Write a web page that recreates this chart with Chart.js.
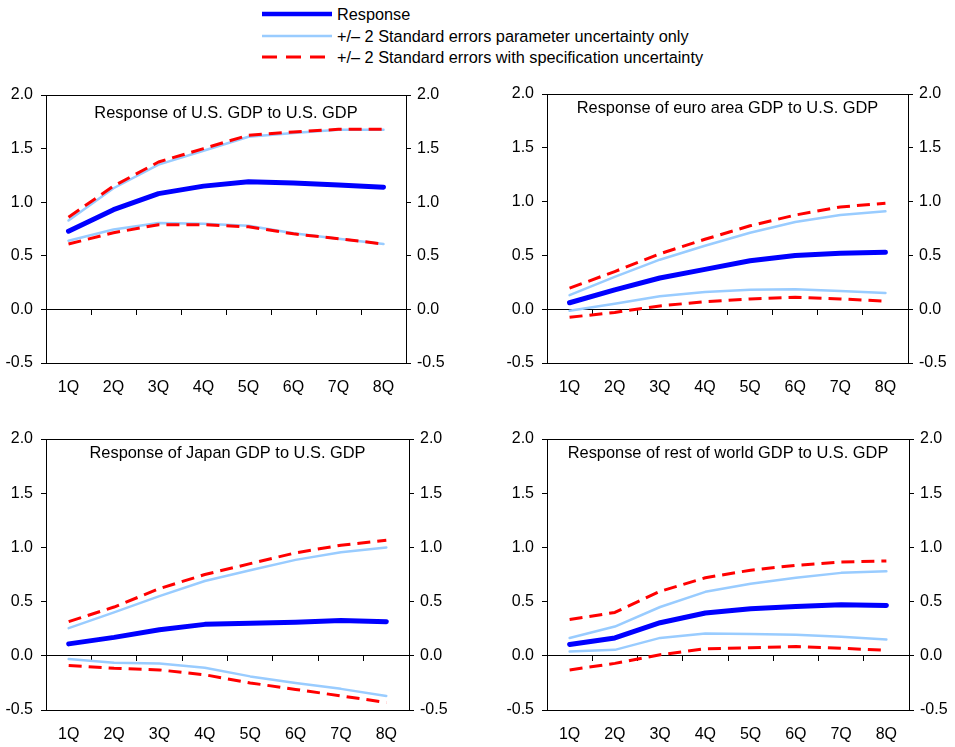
<!DOCTYPE html>
<html>
<head>
<meta charset="utf-8">
<script src="https://cdn.jsdelivr.net/npm/chart.js@4/dist/chart.umd.min.js"></script>
<style>
  html, body { margin: 0; padding: 0; background: #fff; width: 955px; height: 747px; overflow: hidden;
    font-family: "Liberation Sans", Arial, sans-serif; color: #000; }
  canvas.panel { position: absolute; }
  #legend { position: absolute; left: 262px; top: 0; font-size: 16.3px; }
  #legend .row { position: absolute; left: 0; height: 22px; line-height: 22px; white-space: nowrap; }
  #legend svg { position: absolute; left: 0; top: 6px; }
  #legend span { position: absolute; left: 75px; top: 0; }
</style>
</head>
<body>
<div id="legend">
  <div class="row" style="top:3px">
    <svg width="72" height="10"><line x1="0" y1="5" x2="70" y2="5" stroke="#0000ff" stroke-width="4.5"/></svg>
    <span>Response</span>
  </div>
  <div class="row" style="top:24.5px">
    <svg width="72" height="10"><line x1="0" y1="5" x2="70" y2="5" stroke="#99ccff" stroke-width="2.5"/></svg>
    <span>+/– 2 Standard errors parameter uncertainty only</span>
  </div>
  <div class="row" style="top:46px">
    <svg width="72" height="10"><line x1="0" y1="5" x2="70" y2="5" stroke="#ff0000" stroke-width="3" stroke-dasharray="15 9"/></svg>
    <span>+/– 2 Standard errors with specification uncertainty</span>
  </div>
</div>

<canvas id="pUS" class="panel" width="456" height="324" style="left:0px;top:75px"></canvas>
<canvas id="pEU" class="panel" width="457" height="325" style="left:501px;top:74px"></canvas>
<canvas id="pJP" class="panel" width="459" height="327" style="left:0px;top:419px"></canvas>
<canvas id="pROW" class="panel" width="458" height="327" style="left:501px;top:419px"></canvas>

<script>
// Horizon labels and value-axis ticks
const quarters = ['1Q', '2Q', '3Q', '4Q', '5Q', '6Q', '7Q', '8Q'];
const yTicks = [-0.5, 0.0, 0.5, 1.0, 1.5, 2.0];

// Response of U.S. GDP to U.S. GDP
const usResp    = [0.73, 0.93, 1.08, 1.15, 1.19, 1.18, 1.16, 1.14];
const usParamHi = [0.83, 1.13, 1.35, 1.48, 1.61, 1.645, 1.675, 1.675];
const usParamLo = [0.64, 0.745, 0.805, 0.80, 0.78, 0.71, 0.66, 0.61];
const usSpecHi  = [0.86, 1.15, 1.375, 1.50, 1.625, 1.655, 1.68, 1.68];
const usSpecLo  = [0.61, 0.715, 0.79, 0.79, 0.77, 0.705, 0.66, 0.61];

// Response of euro area GDP to U.S. GDP
const euResp    = [0.06, 0.18, 0.29, 0.37, 0.45, 0.50, 0.52, 0.53];
const euParamHi = [0.13, 0.30, 0.46, 0.59, 0.71, 0.81, 0.875, 0.91];
const euParamLo = [-0.015, 0.05, 0.12, 0.16, 0.18, 0.185, 0.17, 0.15];
const euSpecHi  = [0.195, 0.35, 0.515, 0.65, 0.775, 0.875, 0.95, 0.985];
const euSpecLo  = [-0.075, -0.03, 0.03, 0.07, 0.095, 0.11, 0.095, 0.075];

// Response of Japan GDP to U.S. GDP
const jpResp    = [0.11, 0.17, 0.24, 0.29, 0.30, 0.31, 0.325, 0.315];
const jpParamHi = [0.255, 0.40, 0.55, 0.69, 0.79, 0.885, 0.955, 1.0];
const jpParamLo = [-0.03, -0.065, -0.07, -0.11, -0.19, -0.25, -0.305, -0.37];
const jpSpecHi  = [0.315, 0.45, 0.62, 0.75, 0.85, 0.95, 1.02, 1.065];
const jpSpecLo  = [-0.09, -0.115, -0.13, -0.175, -0.25, -0.31, -0.37, -0.43];

// Response of rest of world GDP to U.S. GDP
const rowResp    = [0.105, 0.165, 0.305, 0.395, 0.435, 0.455, 0.47, 0.465];
const rowParamHi = [0.165, 0.27, 0.45, 0.59, 0.665, 0.72, 0.765, 0.78];
const rowParamLo = [0.04, 0.055, 0.165, 0.205, 0.20, 0.195, 0.175, 0.15];
const rowSpecHi  = [0.335, 0.40, 0.595, 0.72, 0.79, 0.835, 0.865, 0.875];
const rowSpecLo  = [-0.13, -0.07, 0.01, 0.065, 0.075, 0.085, 0.07, 0.05];

Chart.defaults.font.family = '"Liberation Sans", Arial, sans-serif';
Chart.defaults.font.size = 16;
Chart.defaults.color = '#000';

// Panel heading inside the plot box plus the top edge of the frame
const panelFrame = {
  id: 'panelFrame',
  afterDraw(chart, args, opts) {
    const { ctx, chartArea: { left, right, top } } = chart;
    ctx.save();
    ctx.strokeStyle = '#000';
    ctx.lineWidth = 1;
    const y = Math.round(top) + 0.5;
    ctx.beginPath();
    ctx.moveTo(left, y);
    ctx.lineTo(right, y);
    ctx.stroke();
    ctx.font = '16.4px "Liberation Sans", Arial, sans-serif';
    ctx.fillStyle = '#000';
    ctx.textAlign = 'center';
    ctx.textBaseline = 'middle';
    ctx.fillText(opts.text, (left + right) / 2, top + opts.offset);
    ctx.restore();
  }
};

function lineSet(data, color, width, order, dash) {
  return {
    data, borderColor: color, backgroundColor: color, borderWidth: width,
    borderDash: dash || [], pointRadius: 0, pointHoverRadius: 0, tension: 0,
    fill: false, order, xAxisID: 'x', yAxisID: 'y',
    borderCapStyle: dash ? 'butt' : 'round', borderJoinStyle: 'round'
  };
}

function valueAxis(position, pad, width) {
  return {
    type: 'linear', position, min: -0.5, max: 2.0,
    afterBuildTicks: s => { s.ticks = yTicks.map(v => ({ value: v })); },
    afterFit: s => { s.width = width; },
    ticks: { padding: pad, callback: v => Number(v).toFixed(1), color: '#000', font: { size: 16 } },
    grid: { drawOnChartArea: false, drawTicks: true, tickLength: 5, color: '#000', lineWidth: 1 },
    border: { display: true, color: '#000', width: 1 }
  };
}

function makePanel(id, title, offset, resp, pHi, pLo, sHi, sLo) {
  new Chart(document.getElementById(id), {
    type: 'line',
    data: {
      labels: quarters,
      datasets: [
        lineSet(resp, '#0000ff', 5, 0),
        lineSet(sHi, '#ff0000', 3, 1, [13, 7]),
        lineSet(sLo, '#ff0000', 3, 1, [13, 7]),
        lineSet(pHi, '#99ccff', 2.5, 2),
        lineSet(pLo, '#99ccff', 2.5, 2)
      ]
    },
    options: {
      responsive: false, animation: false, devicePixelRatio: 1,
      layout: { padding: { top: 20, left: 0, right: 0, bottom: 0 } },
      plugins: {
        legend: { display: false }, tooltip: { enabled: false },
        panelFrame: { text: title, offset }
      },
      scales: {
        x: {
          type: 'category', position: 'bottom', offset: true,
          afterFit: s => { s.height = 36; },
          grid: { display: false, drawTicks: false },
          border: { display: true, color: '#000', width: 1 },
          ticks: { padding: 15, maxRotation: 0, autoSkip: false, color: '#000', font: { size: 16 } }
        },
        x0: {
          axis: 'x', type: 'category', position: { y: 0 }, offset: true,
          grid: { display: true, drawOnChartArea: false, drawTicks: true, tickLength: 5, offset: true, color: '#000' },
          border: { display: true, color: '#000', width: 1 },
          ticks: { display: false }
        },
        y: valueAxis('left', 8, 46),
        y2: valueAxis('right', 6, 50)
      }
    },
    plugins: [panelFrame]
  });
}

makePanel('pUS', 'Response of U.S. GDP to U.S. GDP', 18.5, usResp, usParamHi, usParamLo, usSpecHi, usSpecLo);
makePanel('pEU', 'Response of euro area GDP to U.S. GDP', 14.5, euResp, euParamHi, euParamLo, euSpecHi, euSpecLo);
makePanel('pJP', 'Response of Japan GDP to U.S. GDP', 14.5, jpResp, jpParamHi, jpParamLo, jpSpecHi, jpSpecLo);
makePanel('pROW', 'Response of rest of world GDP to U.S. GDP', 14.5, rowResp, rowParamHi, rowParamLo, rowSpecHi, rowSpecLo);
</script>
</body>
</html>
